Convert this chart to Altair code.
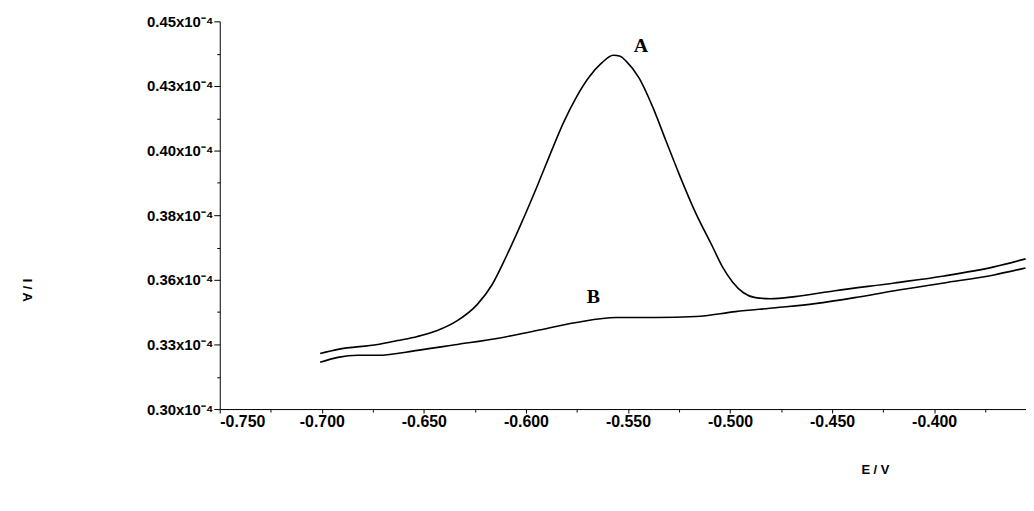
import altair as alt
import pandas as pd

# Curve A (with analyte)
a_e = [-0.7008, -0.6921, -0.6726, -0.6629, -0.6531, -0.6434, -0.6336, -0.6239, -0.6166, -0.6093,
       -0.6020, -0.5947, -0.5874, -0.5816, -0.5752, -0.5694, -0.5630, -0.5572, -0.5538, -0.5509,
       -0.5446, -0.5377, -0.5314, -0.5251, -0.5168, -0.5085, -0.5037, -0.4988, -0.4934, -0.4876,
       -0.4803, -0.4681, -0.4486, -0.4194, -0.3951, -0.3707, -0.3552]
a_i = [0.3215, 0.3231, 0.3250, 0.3265, 0.3281, 0.3304, 0.3342, 0.3404, 0.3481, 0.3596,
       0.3723, 0.3858, 0.4000, 0.4108, 0.4208, 0.4281, 0.4338, 0.4369, 0.4365, 0.4346,
       0.4281, 0.4165, 0.4038, 0.3912, 0.3758, 0.3627, 0.3550, 0.3492, 0.3450, 0.3431,
       0.3427, 0.3435, 0.3458, 0.3488, 0.3515, 0.3550, 0.3581]

# Curve B (blank)
b_e = [-0.7008, -0.6921, -0.6823, -0.6726, -0.6531, -0.6336, -0.6142, -0.5947, -0.5752, -0.5557,
       -0.5363, -0.5168, -0.4973, -0.4778, -0.4584, -0.4389, -0.4194, -0.3951, -0.3707, -0.3552]
b_i = [0.3181, 0.3200, 0.3208, 0.3208, 0.3227, 0.3250, 0.3273, 0.3304, 0.3335, 0.3354,
       0.3354, 0.3358, 0.3377, 0.3392, 0.3408, 0.3431, 0.3458, 0.3488, 0.3519, 0.3546]

y_ticks = [0.30, 0.325, 0.35, 0.375, 0.40, 0.425, 0.45]
y_tick_labels = ["0.30x10⁻⁴", "0.33x10⁻⁴", "0.36x10⁻⁴", "0.38x10⁻⁴", "0.40x10⁻⁴", "0.43x10⁻⁴", "0.45x10⁻⁴"]
y_minor = [0.3125, 0.3375, 0.3625, 0.3875, 0.4125, 0.4375]
x_ticks = [-0.75, -0.70, -0.65, -0.60, -0.55, -0.50, -0.45, -0.40]
x_minor = [-0.725, -0.675, -0.625, -0.575, -0.525, -0.475, -0.425, -0.375]

labels_text = ["A", "B"]
labels_e = [-0.5436, -0.567]
labels_i = [0.4404, 0.3435]

df = pd.concat([
    pd.DataFrame({"E": a_e, "I": a_i, "curve": "A"}),
    pd.DataFrame({"E": b_e, "I": b_i, "curve": "B"}),
])
lab = pd.DataFrame({"E": labels_e, "I": labels_i, "t": labels_text})

label_expr = "{" + ",".join(
    f"'{v:.3f}':'{t}'" for v, t in zip(y_ticks, y_tick_labels)) + "}[format(datum.value,'.3f')]"
x_label_expr = "replace(format(datum.value,'.3f'),'\u2212','-')"

xscale = alt.Scale(domain=[-0.75, -0.355], nice=False, zero=False)
yscale = alt.Scale(domain=[0.30, 0.45], nice=False, zero=False)

lines = alt.Chart(df).mark_line(color="black", strokeWidth=1.6, interpolate="monotone").encode(
    x=alt.X("E:Q", scale=xscale,
            axis=alt.Axis(values=x_ticks, labelExpr=x_label_expr, title="E / V", grid=False,
                          titleX=659, titleY=55, titleFontSize=13, titleFontWeight="bold",
                          labelFontSize=16, labelFontWeight="bold", labelColor="black",
                          tickColor="black", domainColor="black", tickSize=4, labelPadding=1,
                          orient="bottom")),
    y=alt.Y("I:Q", scale=yscale,
            axis=alt.Axis(values=y_ticks, labelExpr=label_expr, title="I / A", grid=False,
                          titleX=-201, titleY=270, titleAngle=90, titleFontSize=13,
                          titleFontWeight="bold", labelFontSize=15, labelFontWeight="bold",
                          labelColor="black", tickColor="black", domainColor="black",
                          tickSize=6, labelPadding=1, orient="left")),
    detail="curve:N",
)

minor = alt.Chart(df).mark_line(opacity=0).encode(
    x=alt.X("E:Q", scale=xscale,
            axis=alt.Axis(values=x_minor, labels=False, title="", grid=False, domain=False,
                          tickColor="black", tickSize=3, orient="bottom")),
    y=alt.Y("I:Q", scale=yscale,
            axis=alt.Axis(values=y_minor, labels=False, title="", grid=False, domain=False,
                          tickColor="black", tickSize=3, orient="left")),
    detail="curve:N",
)

texts = alt.Chart(lab).mark_text(font="Liberation Serif", fontWeight="bold", fontSize=20,
                                 color="black").encode(
    x=alt.X("E:Q", scale=xscale, axis=None),
    y=alt.Y("I:Q", scale=yscale, axis=None),
    text="t:N")

chart = alt.layer(lines, minor, texts).resolve_axis(x="independent", y="independent").properties(
    width=811, height=390,
    autosize=alt.AutoSizeParams(type="none"),
    padding={"left": 213, "top": 12, "right": 0, "bottom": 80},
).configure_view(stroke=None).configure_axis(labelFont="Liberation Sans", titleFont="Liberation Sans")

chart.save("out.html", embed_options={"renderer": "svg", "actions": False})
